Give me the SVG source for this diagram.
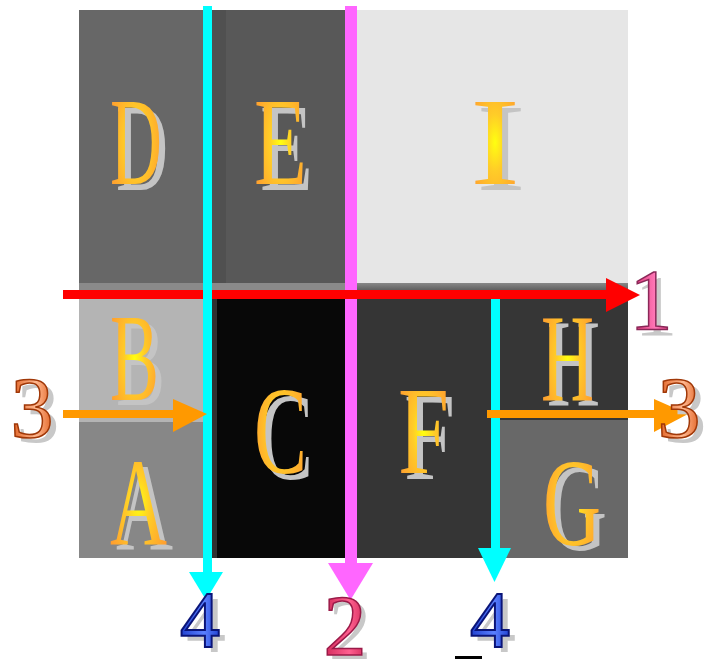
<svg xmlns="http://www.w3.org/2000/svg" width="714" height="659" viewBox="0 0 714 659">
<defs>
<radialGradient id="lg" cx="0.5" cy="0.5" r="0.6">
<stop offset="0" stop-color="#ffff10"/>
<stop offset="0.35" stop-color="#ffcc28"/>
<stop offset="1" stop-color="#ff9830"/>
</radialGradient>
<linearGradient id="g1" x1="0" y1="0" x2="1" y2="0">
<stop offset="0" stop-color="#d82a68"/>
<stop offset="0.6" stop-color="#ff78b8"/>
<stop offset="1" stop-color="#d83070"/>
</linearGradient>
<linearGradient id="g3" x1="0" y1="0" x2="1" y2="0">
<stop offset="0" stop-color="#e06020"/>
<stop offset="0.6" stop-color="#ffb890"/>
<stop offset="1" stop-color="#e06020"/>
</linearGradient>
<linearGradient id="g4" x1="0" y1="0" x2="1" y2="0">
<stop offset="0" stop-color="#2040d0"/>
<stop offset="0.6" stop-color="#5a80ff"/>
<stop offset="1" stop-color="#2040d0"/>
</linearGradient>
<linearGradient id="g2" x1="0" y1="0" x2="1" y2="0">
<stop offset="0" stop-color="#d02858"/>
<stop offset="0.6" stop-color="#ff6090"/>
<stop offset="1" stop-color="#d02858"/>
</linearGradient>
<linearGradient id="strip" x1="0" y1="0" x2="0" y2="1">
<stop offset="0" stop-color="#888"/>
<stop offset="1" stop-color="#555"/>
</linearGradient>
</defs>
<style>
.L{font-family:"Liberation Serif","Times New Roman",serif;font-size:124px}
.Lf{fill:url(#lg)}
.sh{fill:#c4c4c4}
.N{font-family:"Liberation Serif","Times New Roman",serif;font-size:86px;text-anchor:middle}
.n1{fill:url(#g1);stroke:#8a2858;stroke-width:1.5}
.n2{fill:url(#g2);stroke:#9a1a48;stroke-width:1.5}
.n3{fill:url(#g3);stroke:#a03808;stroke-width:1.5}
.n4{fill:url(#g4);stroke:#0a1478;stroke-width:2}
.ns{fill:#c8c8c8}
</style>
<rect width="714" height="659" fill="#ffffff"/>

<g id="cell-D"><rect x="79" y="10" width="128" height="282" fill="#676767"/>
<text class="L sh" x="116" y="190" textLength="52" lengthAdjust="spacingAndGlyphs">D</text>
<text class="L Lf" x="110" y="184" textLength="52" lengthAdjust="spacingAndGlyphs">D</text></g>

<g id="cell-E"><rect x="207" y="10" width="144" height="282" fill="#585858"/>
<rect x="212" y="10" width="14" height="274" fill="#505050"/>
<text class="L sh" x="260" y="190" textLength="53" lengthAdjust="spacingAndGlyphs">E</text>
<text class="L Lf" x="254" y="184" textLength="53" lengthAdjust="spacingAndGlyphs">E</text></g>

<g id="cell-I"><rect x="351" y="10" width="277" height="282" fill="#e6e6e6"/>
<text class="L sh" x="476" y="190" textLength="50" lengthAdjust="spacingAndGlyphs">I</text>
<text class="L Lf" x="470" y="184" textLength="50" lengthAdjust="spacingAndGlyphs">I</text></g>

<rect x="79" y="283" width="272" height="9" fill="#8a8a8a"/>
<rect x="351" y="283" width="277" height="9" fill="url(#strip)"/>

<g id="cell-B"><rect x="79" y="292" width="128" height="130" fill="#b4b4b4"/>
<text class="L sh" x="116" y="405" textLength="49" lengthAdjust="spacingAndGlyphs">B</text>
<text class="L Lf" x="110" y="400" textLength="49" lengthAdjust="spacingAndGlyphs">B</text></g>

<g id="cell-A"><rect x="79" y="422" width="128" height="136" fill="#878787"/>
<text class="L sh" x="116" y="550" textLength="57" lengthAdjust="spacingAndGlyphs">A</text>
<text class="L Lf" x="110" y="545" textLength="57" lengthAdjust="spacingAndGlyphs">A</text></g>

<g id="cell-C"><rect x="207" y="292" width="144" height="266" fill="#080808"/>
<rect x="212" y="292" width="5" height="266" fill="#303030"/>
<text class="L sh" x="260" y="479" textLength="53" lengthAdjust="spacingAndGlyphs">C</text>
<text class="L Lf" x="254" y="473" textLength="53" lengthAdjust="spacingAndGlyphs">C</text></g>

<g id="cell-F"><rect x="351" y="292" width="144" height="266" fill="#353535"/>
<text class="L sh" x="404" y="479" textLength="51" lengthAdjust="spacingAndGlyphs">F</text>
<text class="L Lf" x="398" y="473" textLength="51" lengthAdjust="spacingAndGlyphs">F</text></g>

<g id="cell-H"><rect x="495" y="292" width="133" height="128" fill="#363636"/>
<text class="L sh" x="547" y="405" textLength="53" lengthAdjust="spacingAndGlyphs">H</text>
<text class="L Lf" x="541" y="400" textLength="53" lengthAdjust="spacingAndGlyphs">H</text></g>

<g id="cell-G"><rect x="495" y="420" width="133" height="138" fill="#686868"/>
<text class="L sh" x="549" y="550" textLength="58" lengthAdjust="spacingAndGlyphs">G</text>
<text class="L Lf" x="543" y="545" textLength="58" lengthAdjust="spacingAndGlyphs">G</text></g>

<g id="connectors">
<rect x="345" y="6" width="12" height="558" fill="#ff66ff"/>
<polygon points="328,563 373,563 350.5,600" fill="#ff66ff"/>
<rect x="491" y="294" width="9" height="255" fill="#00ffff"/>
<polygon points="478,548 511,548 494.5,582" fill="#00ffff"/>
<rect x="63" y="290" width="544" height="9" fill="#ff0000"/>
<polygon points="606,278 640,295 606,312" fill="#ff0000"/>
<rect x="203" y="6" width="9" height="567" fill="#00ffff"/>
<polygon points="189,572 223,572 206,600" fill="#00ffff"/>
<rect x="63" y="410" width="111" height="8" fill="#ff9900"/>
<polygon points="173,399 207,414 173,432" fill="#ff9900"/>
<rect x="487" y="410" width="168" height="8" fill="#ff9900"/>
<polygon points="654,399 688,414 654,432" fill="#ff9900"/>
</g>

<g id="label-1"><text class="N ns" x="656" y="335">1</text><text class="N n1" x="651" y="329">1</text></g>
<g id="label-3-left"><text class="N ns" x="38" y="442">3</text><text class="N n3" x="32" y="437">3</text></g>
<g id="label-3-right"><text class="N ns" x="685" y="442">3</text><text class="N n3" x="679" y="437">3</text></g>
<g id="label-4-left"><text class="N ns" x="206" y="652" style="font-size:80px">4</text><text class="N n4" x="200" y="647" style="font-size:80px">4</text></g>
<g id="label-2"><text class="N ns" x="350" y="659">2</text><text class="N n2" x="345" y="655">2</text></g>
<g id="label-4-right"><text class="N ns" x="496" y="652" style="font-size:80px">4</text><text class="N n4" x="490" y="647" style="font-size:80px">4</text></g>
<rect x="455" y="656" width="27" height="3" fill="#000000"/>
</svg>
